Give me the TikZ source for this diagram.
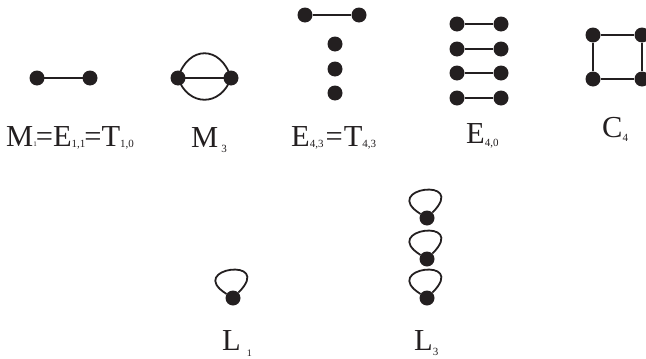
\documentclass[tikz,border=0pt]{standalone}
\usepackage{fontspec}
\setmainfont{Liberation Serif}
\definecolor{ink}{RGB}{35,31,32}
\newcommand\lsub[3]{\raisebox{-#1}{\fontsize{#2}{#2}\selectfont #3}}
\begin{document}
\begin{tikzpicture}[x=1pt,y=-1pt,
  dot/.style={circle,fill=ink,inner sep=0pt,minimum size=15pt},
  edge/.style={draw=ink,line width=1.8pt},
  loopy/.style={draw=ink,line width=1.8pt},
  lab/.style={inner sep=0pt,anchor=base west,font=\fontsize{30.5}{30.5}\selectfont,text=ink}]
\path[use as bounding box] (0,0) rectangle (646,359);
% M1
\coordinate (pa) at (37,78);
\coordinate (pb) at (90,78);
\draw[edge] (pa) -- (pb);
\node[dot] (m1a) at (pa) {};
\node[dot] (m1b) at (pb) {};
% M3
\draw[edge] (178,78) coordinate (qa) -- (231,78) coordinate (qb);
\draw[edge] (qa) .. controls +(10,-33) and +(-10,-33) .. (qb);
\draw[edge] (qa) .. controls +(10,29) and +(-10,29) .. (qb);
\node[dot] (m3a) at (qa) {};
\node[dot] (m3b) at (qb) {};
% E43
\node[dot] (e1) at (305,15) {};
\node[dot] (e2) at (359,15) {};
\node[dot] (e3) at (335,44) {};
\node[dot] (e4) at (335,69) {};
\node[dot] (e5) at (335,93) {};
\draw[edge] (e1) -- (e2);
% E40
\foreach \y [count=\i] in {24,49,73,98}{
  \node[dot] (fa\i) at (457,\y) {};
  \node[dot] (fb\i) at (501,\y) {};
  \draw[edge] (fa\i) -- (fb\i);
}
% C4
\node[dot] (c1) at (593,35) {};
\node[dot] (c2) at (642,35) {};
\node[dot] (c3) at (642,79) {};
\node[dot] (c4) at (593,79) {};
\draw[edge] (c1) -- (c2) -- (c3) -- (c4) -- (c1);
% L1
\node[dot] (l1) at (233,298) {};
\draw[loopy] (l1) .. controls +(-48,-30) and +(42,-42) .. (l1);
% L3
\foreach \y [count=\i] in {218,259,298}{
  \node[dot] (k\i) at (427,\y) {};
  \draw[loopy] (k\i) .. controls +(-48,-30) and +(42,-42) .. (k\i);
}
% labels
\node[lab] (t1) at (6,146) {M\lsub{0pt}{7}{1}\kern-1pt=E\lsub{1pt}{11}{1,1}\kern-1pt=T\lsub{1pt}{11}{1,0}};
\node[lab] (t2) at (191,147) {M\hspace{3pt}\lsub{5pt}{11}{3}};
\node[lab] (t3) at (291,146) {E\lsub{1pt}{11}{4,3}\hspace{2pt}=\hspace{1pt}T\lsub{1pt}{11}{4,3}};
\node[lab] (t4) at (466,143) {E\lsub{3pt}{11}{4,0}};
\node[lab] (t5) at (602,137) {C\lsub{4pt}{11}{4}};
\node[lab] (t6) at (222,350) {L\hspace{6pt}\lsub{6pt}{10}{1}};
\node[lab] (t7) at (414,350) {L\lsub{5pt}{11}{3}};
\end{tikzpicture}
\end{document}
